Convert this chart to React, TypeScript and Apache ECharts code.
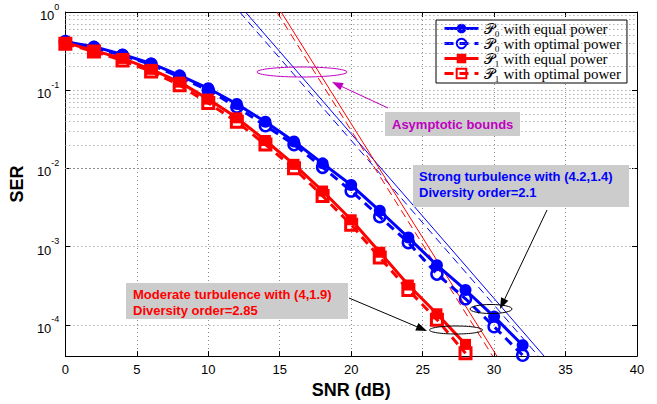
import React, { useEffect, useRef } from "react";
import * as echarts from "echarts";

// ---------- data ----------
const snrP0 = [0, 2, 4, 6, 8, 10, 12, 14, 16, 18, 20, 22, 24, 26, 28, 30, 32];
const serP0Equal = [0.418, 0.361, 0.286, 0.22, 0.155, 0.106, 0.0667, 0.0395, 0.0221, 0.01164, 0.00614, 0.00288, 0.00131, 0.00058, 0.00028, 0.000128, 0.000055];
const serP0Optimal = [0.418, 0.351, 0.278, 0.214, 0.1465, 0.1, 0.0611, 0.0352, 0.0202, 0.01035, 0.00515, 0.00242, 0.00113, 0.000447, 0.000216, 0.000095, 0.000041];

const snrP1 = [0, 2, 4, 6, 8, 10, 12, 14, 16, 18, 20, 22, 24, 26, 28];
const serP1Equal = [0.406, 0.321, 0.255, 0.185, 0.127, 0.077, 0.0444, 0.0228, 0.0113, 0.00515, 0.00221, 0.00085, 0.000324, 0.000139, 0.0000565];
const serP1Optimal = [0.394, 0.312, 0.24, 0.174, 0.116, 0.0687, 0.0395, 0.0202, 0.01007, 0.00445, 0.00191, 0.00073, 0.00028, 0.000117, 0.0000435];

// asymptotic bounds: [SNR, SER] end points
const asymP0Equal = [[12.6, 1], [33.5, 4e-5]];
const asymP0Optimal = [[12.2, 1], [33.1, 4e-5]];
const asymP1Equal = [[15.1, 1], [30.2, 4e-5]];
const asymP1Optimal = [[14.8, 1], [29.9, 4e-5]];

const xMin = 0;
const xMax = 40;
const xInterval = 5;
const yMin = 4e-5;
const yMax = 1;
const minorDecades = [1e-5, 1e-4, 1e-3, 1e-2, 1e-1];
const minorMultipliers = [2, 3, 4, 5, 6, 7, 8, 9];

const names = [
  "𝒫₀ with equal power",
  "𝒫₀ with optimal power",
  "𝒫₁ with equal power",
  "𝒫₁ with optimal power",
];

const BLUE = "#0000ff";
const RED = "#ff0000";
const MAGENTA = "#c000c0";
const SANS = '"Liberation Sans", Arial, Helvetica, sans-serif';
const SERIF = '"Liberation Serif", "DejaVu Serif", "Times New Roman", serif';

function arrow(x1: number, y1: number, x2: number, y2: number, color: string) {
  const a = Math.atan2(y2 - y1, x2 - x1);
  const L = 11;
  const W = 4;
  const bx = x2 - L * Math.cos(a);
  const by = y2 - L * Math.sin(a);
  return [
    { type: "line", shape: { x1, y1, x2: bx, y2: by }, style: { stroke: color, lineWidth: 1 }, z: 100 },
    {
      type: "polygon",
      shape: {
        points: [
          [x2, y2],
          [bx + W * Math.sin(a), by - W * Math.cos(a)],
          [bx - W * Math.sin(a), by + W * Math.cos(a)],
        ],
      },
      style: { fill: color },
      z: 100,
    },
  ];
}

function ellipse(cx: number, cy: number, rx: number, ry: number, color: string) {
  return { type: "ellipse", shape: { cx, cy, rx, ry }, style: { fill: "none", stroke: color, lineWidth: 1 }, z: 100 };
}

function box(x: number, y: number, w: number, h: number, text: string, color: string, tx: number, ty: number) {
  return [
    { type: "rect", shape: { x, y, width: w, height: h }, style: { fill: "#cccccc" }, z: 90 },
    {
      type: "text",
      x: tx,
      y: ty,
      style: { text, fill: color, font: `bold 13px ${SANS}`, lineHeight: 16, textVerticalAlign: "top", verticalAlign: "top" },
      z: 95,
    },
  ];
}

function dataSeries(name: string, xs: number[], ys: number[], color: string, dashed: boolean, symbol: string, size: number, filled: boolean, z: number) {
  return {
    type: "line",
    name,
    data: xs.map((v, i) => [v, ys[i]]),
    symbol,
    symbolSize: size,
    showSymbol: true,
    clip: false,
    z,
    lineStyle: { color, width: 3, type: dashed ? [9, 6] : "solid" },
    itemStyle: filled
      ? { color, borderWidth: 0 }
      : { color: "rgba(255,255,255,0)", borderColor: color, borderWidth: symbol === "rect" ? 3 : 2.5 },
    emphasis: { disabled: true },
  };
}

function asymSeries(pts: number[][], color: string, dashed: boolean) {
  return {
    type: "line",
    data: pts,
    symbol: "none",
    z: 20,
    lineStyle: { color, width: 1, type: dashed ? [8, 5] : "solid" },
    emphasis: { disabled: true },
    silent: true,
  };
}

export default function App() {
  const ref = useRef<HTMLDivElement>(null);

  useEffect(() => {
    if (!ref.current) return;
    const chart = echarts.init(ref.current, undefined, { renderer: "svg" });

    const minorValues: number[] = [];
    minorDecades.forEach((d) => minorMultipliers.forEach((m) => {
      const v = d * m;
      if (v > yMin * 1.0001 && v < yMax) minorValues.push(v);
    }));

    const gridDots = { type: [1, 3], color: "#8a8a8a", width: 1 };

    const yLabelFmt = (v: number) => {
      const e = Math.log10(v);
      const r = Math.round(e);
      if (Math.abs(e - r) > 1e-6) return "";
      return `{b|10}{e|${r}}`;
    };

    const option: any = {
      animation: false,
      backgroundColor: "#ffffff",
      grid: { left: 62, right: 20, top: 12, bottom: 44, containLabel: false },
      legend: {
        orient: "vertical",
        left: 436,
        top: 20,
        data: names,
        itemWidth: 34,
        itemHeight: 12,
        itemGap: 0,
        padding: [1, 6, 2, 7],
        backgroundColor: "#ffffff",
        borderColor: "#000000",
        borderWidth: 1,
        borderRadius: 0,
        selectedMode: false,
        lineStyle: { width: 3 },
        textStyle: { fontFamily: SERIF, fontSize: 15, color: "#000", lineHeight: 15 },
      },
      xAxis: [
        {
          type: "value",
          min: xMin,
          max: xMax,
          interval: xInterval,
          axisLine: { show: true, onZero: false, lineStyle: { color: "#000", width: 1 } },
          axisTick: { show: true, inside: true, length: 5, lineStyle: { color: "#000" } },
          axisLabel: { color: "#000", fontSize: 13, fontFamily: SANS, margin: 7 },
          splitLine: { show: true, lineStyle: gridDots },
          name: "SNR (dB)",
          nameLocation: "middle",
          nameGap: 22,
          nameTextStyle: { fontWeight: "bold", fontSize: 18, color: "#000", fontFamily: SANS },
        },
        {
          type: "value",
          position: "top",
          min: xMin,
          max: xMax,
          interval: xInterval,
          axisLine: { show: true, onZero: false, lineStyle: { color: "#000", width: 1 } },
          axisTick: { show: true, inside: true, length: 5, lineStyle: { color: "#000" } },
          axisLabel: { show: false },
          splitLine: { show: false },
        },
      ],
      yAxis: [
        {
          type: "log",
          logBase: 10,
          min: yMin,
          max: yMax,
          axisLine: { show: true, onZero: false, lineStyle: { color: "#000", width: 1 } },
          axisTick: { show: true, inside: true, length: 5, lineStyle: { color: "#000" } },
          axisLabel: {
            formatter: yLabelFmt,
            margin: 6,
            rich: {
              b: { fontSize: 13, color: "#000", fontFamily: SANS, lineHeight: 20, verticalAlign: "bottom" },
              e: { fontSize: 9, color: "#000", fontFamily: SANS, lineHeight: 10, verticalAlign: "top" },
            },
          },
          splitLine: { show: true, lineStyle: gridDots },
          name: "SER",
          nameLocation: "middle",
          nameGap: 38,
          nameRotate: 90,
          nameTextStyle: { fontWeight: "bold", fontSize: 18, color: "#000", fontFamily: SANS },
        },
        {
          type: "log",
          logBase: 10,
          min: yMin,
          max: yMax,
          position: "right",
          axisLine: { show: true, onZero: false, lineStyle: { color: "#000", width: 1 } },
          axisTick: { show: true, inside: true, length: 5, lineStyle: { color: "#000" } },
          axisLabel: { show: false },
          splitLine: { show: false },
        },
      ],
      series: [
        {
          type: "line",
          data: [],
          silent: true,
          markLine: {
            silent: true,
            symbol: ["none", "none"],
            label: { show: false },
            lineStyle: gridDots,
            emphasis: { disabled: true },
            data: minorValues.map((v) => ({ yAxis: v })),
          },
        },
        dataSeries(names[0], snrP0, serP0Equal, BLUE, false, "circle", 12, true, 30),
        dataSeries(names[1], snrP0, serP0Optimal, BLUE, true, "circle", 11, false, 31),
        dataSeries(names[2], snrP1, serP1Equal, RED, false, "rect", 11, true, 32),
        dataSeries(names[3], snrP1, serP1Optimal, RED, true, "rect", 11, false, 33),
        asymSeries(asymP0Equal, BLUE, false),
        asymSeries(asymP0Optimal, BLUE, true),
        asymSeries(asymP1Equal, RED, false),
        asymSeries(asymP1Optimal, RED, true),
      ],
      graphic: {
        elements: [
          ellipse(302, 72, 45, 5, MAGENTA),
          ...arrow(388, 108, 332, 82, MAGENTA),
          ...box(385, 112, 135, 24, "Asymptotic bounds", MAGENTA, 392, 116),
          ...box(413, 165, 216, 42, "Strong turbulence with (4.2,1.4)\nDiversity order=2.1", BLUE, 419, 168),
          ...arrow(547, 210, 500, 309, "#000"),
          ellipse(491, 309, 21, 4.5, "#000"),
          ...box(126, 283, 222, 36, "Moderate turbulence with (4,1.9)\nDiversity order=2.85", RED, 133, 286),
          ...arrow(349, 298, 427, 331, "#000"),
          ellipse(456, 330, 26.5, 4, "#000"),
        ],
      },
    };

    chart.setOption(option);
    return () => chart.dispose();
  }, []);

  return <div ref={ref} style={{ position: "fixed", left: 0, top: 0, width: 657, height: 404 }} />;
}
